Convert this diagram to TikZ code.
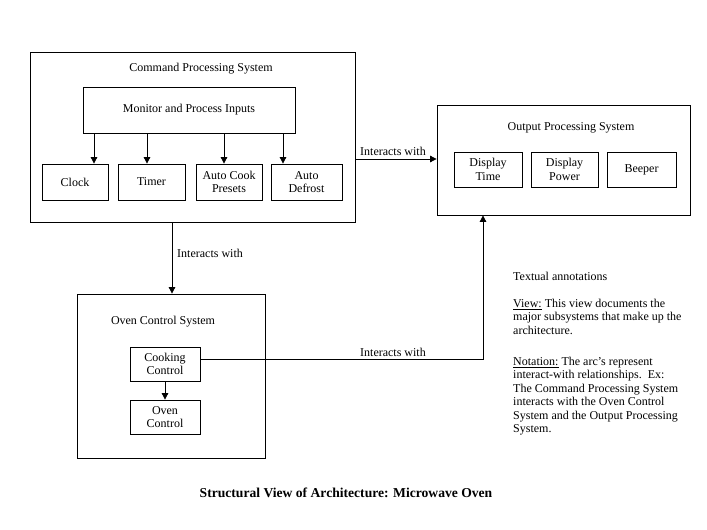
\documentclass[tikz,border=0pt]{standalone}
\usepackage{fontspec}
\setmainfont{Liberation Serif}
\usetikzlibrary{arrows.meta}
\begin{document}
\begin{tikzpicture}[x=1pt,y=-1pt,
  box/.style={draw, line width=0.8pt, inner sep=0pt, align=center, font=\fontsize{12}{13.5}\selectfont},
  lbl/.style={inner sep=0pt, font=\fontsize{12}{13.5}\selectfont},
  arr/.style={draw, line width=0.8pt, -{Triangle[width=6.5pt,length=6.5pt]}},
  conn/.style={draw, line width=0.8pt}]
\useasboundingbox (0,0) rectangle (707,530);
% Command Processing System
\node[box, minimum width=325pt, minimum height=170pt] (cps) at (192.5,137) {};
\node[lbl] (cpst) at (201,69) {Command Processing System};
\node[box, minimum width=212pt, minimum height=46pt] (mon) at (189,110) {Monitor and Process Inputs};
\node[box, minimum width=66pt, minimum height=36pt] (clock) at (75,182) {Clock};
\node[box, minimum width=67pt, minimum height=36pt] (timer) at (151.5,182) {Timer};
\node[box, minimum width=66pt, minimum height=36pt] (cook) at (229,182) {Auto Cook\\Presets};
\node[box, minimum width=71pt, minimum height=36pt] (defr) at (306.5,182) {Auto\\Defrost};
\coordinate (a1) at (94,0);
\coordinate (a2) at (147,0);
\coordinate (a3) at (224,0);
\coordinate (a4) at (283,0);
\draw[arr] (mon.south -| a1) -- (clock.north -| a1);
\draw[arr] (mon.south -| a2) -- (timer.north -| a2);
\draw[arr] (mon.south -| a3) -- (cook.north -| a3);
\draw[arr] (mon.south -| a4) -- (defr.north -| a4);
% Output Processing System
\node[box, minimum width=253pt, minimum height=110pt] (out) at (563.5,160) {};
\node[lbl] (outt) at (571,128) {Output Processing System};
\node[box, minimum width=68pt, minimum height=35pt] (dt) at (488,169.5) {Display\\Time};
\node[box, minimum width=67pt, minimum height=35pt] (dp) at (564.5,169.5) {Display\\Power};
\node[box, minimum width=69pt, minimum height=35pt] (beep) at (641.5,169.5) {Beeper};
% Oven Control System
\node[box, minimum width=188pt, minimum height=164pt] (oven) at (171,376) {};
\node[lbl] (ovent) at (163,322) {Oven Control System};
\node[box, minimum width=70pt, minimum height=34pt] (cc) at (165,364) {Cooking\\Control};
\node[box, minimum width=70pt, minimum height=34pt] (oc) at (165,417) {Oven\\Control};
\draw[arr] (cc) -- (oc);
% connectors between systems
\coordinate (y1) at (0,159);
\draw[arr] (cps.east |- y1) -- (out.west |- y1);
\node[lbl] (l1) at (393,151) {Interacts with};
\coordinate (x2) at (172,0);
\draw[arr] (cps.south -| x2) -- (oven.north -| x2);
\node[lbl, anchor=west] (l2) at (177,253) {Interacts with};
\coordinate (bend) at (483,359);
\draw[arr] (cc.east |- bend) -- (bend) -- (out.south -| bend);
\node[lbl] (l3) at (393,352) {Interacts with};
% annotations
\node[lbl, anchor=north west, align=left] (ann) at (513,271.5) {Textual annotations\\[13.8pt]
\underline{View:} This view documents the\\
major subsystems that make up the\\
architecture.\\[17.4pt]
\underline{Notation:} The arc’s represent\\
interact-with relationships.\ \ Ex:\\
The Command Processing System\\
interacts with the Oven Control\\
System and the Output Processing\\
System.};
% title
\node[lbl, font=\fontsize{13.6}{15}\selectfont\bfseries] (title) at (346,493) {Structural View of Architecture: Microwave Oven};
\end{tikzpicture}
\end{document}
